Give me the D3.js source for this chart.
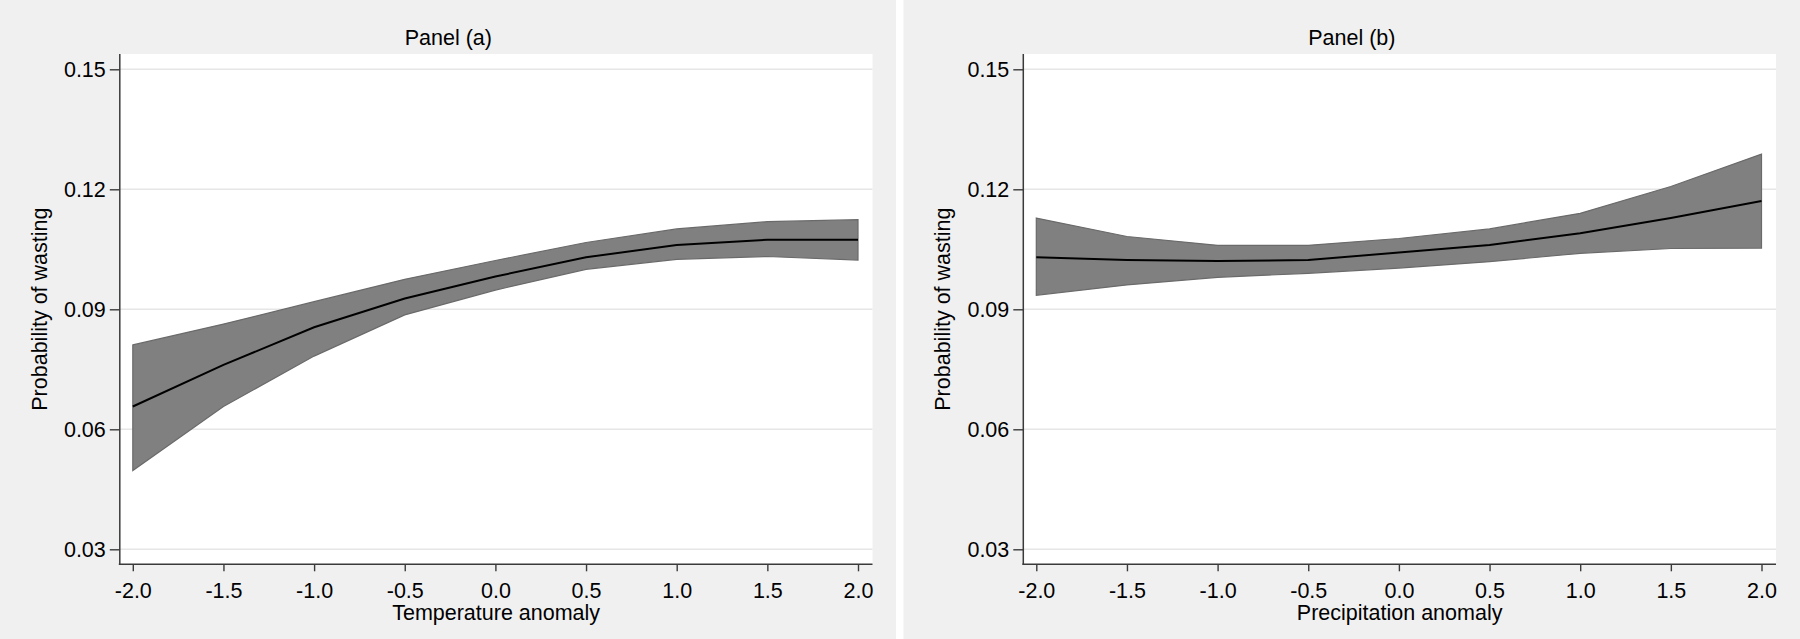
<!DOCTYPE html>
<html>
<head>
<meta charset="utf-8">
<script src="https://cdn.jsdelivr.net/npm/d3@7"></script>
<style>
  html, body { margin: 0; padding: 0; background: #ffffff; }
  svg { display: block; }
  text { font-family: "Liberation Sans", Arial, sans-serif; fill: #000; }
</style>
</head>
<body>
<svg id="chart" width="1800" height="639"></svg>
<script>
// ---- Data ----
const xValues = [-2.0, -1.5, -1.0, -0.5, 0.0, 0.5, 1.0, 1.5, 2.0];

const tempMean  = [0.0657, 0.0761, 0.0855, 0.0927, 0.0982, 0.1030, 0.1061, 0.1074, 0.1074];
const tempLower = [0.0497, 0.0657, 0.0783, 0.0886, 0.0948, 0.1000, 0.1025, 0.1032, 0.1023];
const tempUpper = [0.0811, 0.0863, 0.0919, 0.0975, 0.1022, 0.1067, 0.1101, 0.1119, 0.1124];

const precMean  = [0.1030, 0.1023, 0.1021, 0.1023, 0.1042, 0.1061, 0.1090, 0.1128, 0.1171];
const precLower = [0.0935, 0.0961, 0.0980, 0.0990, 0.1003, 0.1019, 0.1040, 0.1052, 0.1053];
const precUpper = [0.1128, 0.1082, 0.1060, 0.1060, 0.1077, 0.1101, 0.1140, 0.1207, 0.1288];

const yTicks = [0.03, 0.06, 0.09, 0.12, 0.15];
const yTickLabels = ["0.03", "0.06", "0.09", "0.12", "0.15"];
const xTicks = [-2.0, -1.5, -1.0, -0.5, 0.0, 0.5, 1.0, 1.5, 2.0];
const xTickLabels = ["-2.0", "-1.5", "-1.0", "-0.5", "0.0", "0.5", "1.0", "1.5", "2.0"];

const panelTitles = ["Panel (a)", "Panel (b)"];
const xTitles = ["Temperature anomaly", "Precipitation anomaly"];
const yTitle = "Probability of wasting";

// ---- Layout ----
const svg = d3.select("#chart");
const W = 1800, H = 639;
const panelW = 896;
const panelOffsets = [0, 903.5];
const plotLeft = 119.8, plotRight = 872.5, plotTop = 54, plotBottom = 564.3;
const FS = 21.5;

svg.append("rect").attr("x", 0).attr("y", 0).attr("width", W).attr("height", H).attr("fill", "#ffffff");

const panels = [
  { mean: tempMean, lower: tempLower, upper: tempUpper },
  { mean: precMean, lower: precLower, upper: precUpper }
];

panels.forEach((p, i) => {
  const g = svg.append("g").attr("transform", `translate(${panelOffsets[i]},0)`);
  const pw = i === 0 ? panelW : W - panelOffsets[i];

  g.append("rect").attr("x", 0).attr("y", 0).attr("width", pw).attr("height", H).attr("fill", "#f0f0f0");
  g.append("rect").attr("x", plotLeft).attr("y", plotTop)
    .attr("width", plotRight - plotLeft).attr("height", plotBottom - plotTop).attr("fill", "#ffffff");

  const x = d3.scaleLinear().domain([-2, 2]).range([132.8, 858]);
  const y = d3.scaleLinear().domain([0.03, 0.15]).range([549.3, 69.3]);

  // gridlines
  g.append("g").selectAll("line").data(yTicks).join("line")
    .attr("x1", plotLeft).attr("x2", plotRight)
    .attr("y1", d => y(d)).attr("y2", d => y(d))
    .attr("stroke", "#e6e6e6").attr("stroke-width", 1.6);

  const rows = xValues.map((xv, k) => ({ x: xv, m: p.mean[k], lo: p.lower[k], hi: p.upper[k] }));

  const area = d3.area().x(d => x(d.x)).y0(d => y(d.lo)).y1(d => y(d.hi));
  g.append("path").datum(rows).attr("d", area)
    .attr("fill", "#808080").attr("stroke", "#6a6a6a").attr("stroke-width", 1.2)
    .attr("stroke-linejoin", "miter");

  const line = d3.line().x(d => x(d.x)).y(d => y(d.m));
  g.append("path").datum(rows).attr("d", line)
    .attr("fill", "none").attr("stroke", "#000").attr("stroke-width", 2);

  // axes
  const yAxis = d3.axisLeft(y).tickValues(yTicks)
    .tickFormat((d, k) => yTickLabels[k]).tickSize(10).tickPadding(4).tickSizeOuter(0);
  const ya = g.append("g").attr("transform", `translate(${plotLeft},0)`).call(yAxis);
  ya.select(".domain").remove();
  ya.selectAll("line").attr("stroke", "#3a3a3a").attr("stroke-width", 1.4);
  ya.selectAll("text").attr("font-size", FS).attr("font-family", "Liberation Sans, Arial, sans-serif").attr("fill", "#000");

  const xAxis = d3.axisBottom(x).tickValues(xTicks)
    .tickFormat((d, k) => xTickLabels[k]).tickSize(7).tickPadding(11).tickSizeOuter(0);
  const xa = g.append("g").attr("transform", `translate(0,${plotBottom})`).call(xAxis);
  xa.select(".domain").remove();
  xa.selectAll("line").attr("stroke", "#3a3a3a").attr("stroke-width", 1.4);
  xa.selectAll("text").attr("font-size", FS).attr("font-family", "Liberation Sans, Arial, sans-serif").attr("fill", "#000");

  // axis lines
  g.append("line").attr("x1", plotLeft).attr("x2", plotLeft).attr("y1", plotTop).attr("y2", plotBottom)
    .attr("stroke", "#3a3a3a").attr("stroke-width", 1.5);
  g.append("line").attr("x1", plotLeft - 1).attr("x2", plotRight).attr("y1", plotBottom).attr("y2", plotBottom)
    .attr("stroke", "#3a3a3a").attr("stroke-width", 1.5);

  // titles
  g.append("text").attr("x", 448.3).attr("y", 45).attr("text-anchor", "middle")
    .attr("font-size", FS).text(panelTitles[i]);
  g.append("text").attr("x", (plotLeft + plotRight) / 2).attr("y", 620).attr("text-anchor", "middle")
    .attr("font-size", FS).text(xTitles[i]);
  g.append("text").attr("transform", `translate(46.5,${(plotTop + plotBottom) / 2}) rotate(-90)`)
    .attr("text-anchor", "middle").attr("font-size", FS).text(yTitle);
});
</script>
</body>
</html>
